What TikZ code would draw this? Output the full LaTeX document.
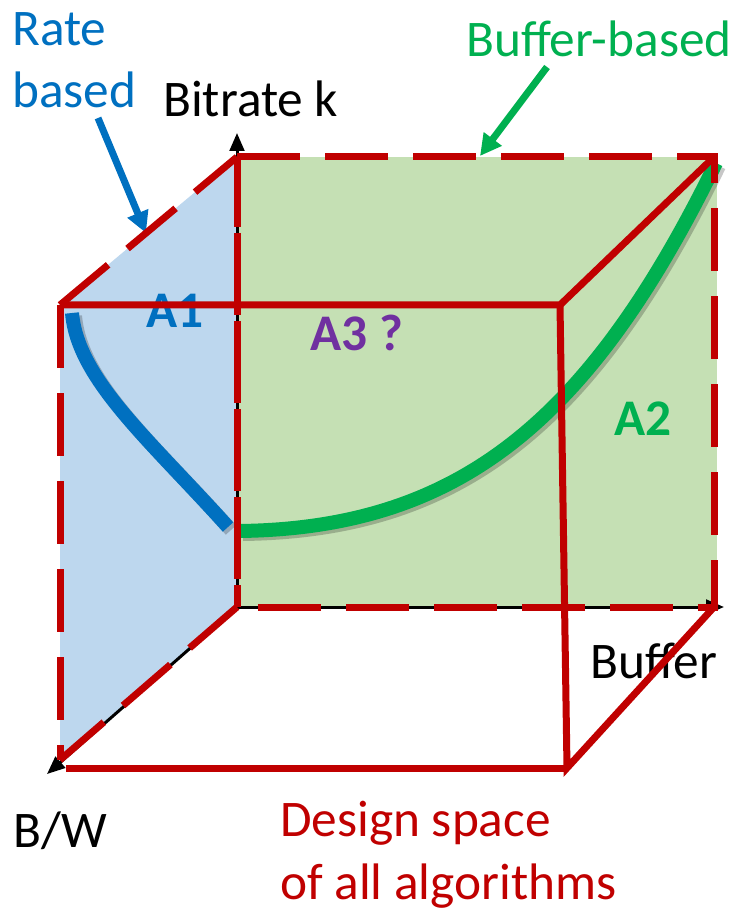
\documentclass[tikz,border=0pt]{standalone}
\usepackage{fontspec}
\setmainfont{Carlito}
\usepackage{tikz}
\usetikzlibrary{arrows.meta}
\definecolor{CubeRed}{HTML}{C00000}
\definecolor{RateBlue}{HTML}{0070C0}
\definecolor{BufGreen}{HTML}{00B050}
\definecolor{AskPurple}{HTML}{7030A0}
\definecolor{RateFill}{HTML}{BDD7EE}
\definecolor{BufFill}{HTML}{C5E0B4}
\tikzset{
  cubelabel/.style={font=\fontsize{38.5}{47}\selectfont, inner sep=0pt, align=left},
  arealabel/.style={font=\fontsize{38.5}{47}\selectfont\bfseries, inner sep=0pt},
  edgesolid/.style={draw=CubeRed, line width=5.25pt},
  edgedash/.style={edgesolid, dash pattern=on 47pt off 19pt},
  axisline/.style={draw=black, line width=2.25pt, -{Triangle[length=13.5pt,width=11pt]}},
  callout/.style={line width=5.25pt, -{Triangle[length=16pt,width=16pt]}},
  strategy/.style={line width=10.5pt},
  curveshadow/.style={draw=black, opacity=0.22, line width=10.5pt, shift={(3,3)}}
}

\begin{document}
\begin{tikzpicture}[x=0.75pt, y=-0.75pt]
\useasboundingbox (0,0) rectangle (745,912);
\coordinate (o) at (237,607);
\coordinate (btl) at (237,157);
\coordinate (btr) at (714,157);
\coordinate (bbr) at (714,607);
\coordinate (ftl) at (60,305);
\coordinate (ftr) at (560,305);
\coordinate (fbr) at (567,768);
\coordinate (fbl) at (60,760);
\coordinate (fbase) at (66,768);
\coordinate (ktip) at (237,133);
\coordinate (buftip) at (724,607);
\coordinate (bwtip) at (47,774);
\fill[RateFill] (ftl) -- (btl) -- (o) -- (fbl) -- cycle;
\fill[BufFill] (btl) rectangle (717,607);
\draw[axisline] (o) -- (ktip);
\draw[axisline] (o) -- (buftip);
\draw[axisline] (o) -- (bwtip);
\node[cubelabel, anchor=base west] (bitrate) at (163,117) {Bitrate k};
\node[cubelabel, anchor=base west] (buffer) at (590,678) {Buffer};
\node[cubelabel, anchor=base west] (bw) at (13,847) {B/W};
\node[cubelabel, anchor=north west, text=RateBlue] (rate) at (12,12) {Rate\\based};
\node[cubelabel, anchor=base west, text=BufGreen] (bufbased) at (466,57) {Buffer-based};
\node[cubelabel, anchor=north west, text=CubeRed] (space) at (280,801) {Design space\\of all algorithms};
\node[arealabel, anchor=base west, text=RateBlue] (a1) at (146,328) {A1};
\node[arealabel, anchor=base west, text=AskPurple] (a3) at (310,350) {A3 ?};
\node[arealabel, anchor=base west, text=BufGreen] (a2) at (614,435) {A2};
\draw[curveshadow] (72,313) .. controls (78,380) and (150,440) .. (228,527);
\draw[strategy, RateBlue] (72,313) .. controls (78,380) and (150,440) .. (228,527);
\draw[curveshadow] (240,531) .. controls (460,528) and (590,420) .. (716,163);
\draw[strategy, BufGreen] (240,531) .. controls (460,528) and (590,420) .. (716,163);
\coordinate (ratetail) at (98,118);
\coordinate (ratetip) at (146,233);
\coordinate (buftail) at (547,67);
\coordinate (bufhead) at (480,156);
\draw[callout, RateBlue] (ratetail) -- (ratetip);
\draw[callout, BufGreen] (buftail) -- (bufhead);
\draw[edgedash] (ftl) -- (btl);
\draw[edgedash] (ftl) -- (fbl);
\draw[edgedash] (o) -- (fbl);
\draw[edgedash] (btl) -- (btr) -- (bbr) -- (o);
\draw[edgesolid, dash pattern=on 61.5pt off 4.5pt, dash phase=9pt] (btl) -- (o);
\draw[edgesolid] (ftl) -- (ftr) -- (btr);
\draw[edgesolid] (ftr) -- (fbr) -- (bbr);
\draw[edgesolid] (fbase) -- (fbr);
\end{tikzpicture}
\end{document}
